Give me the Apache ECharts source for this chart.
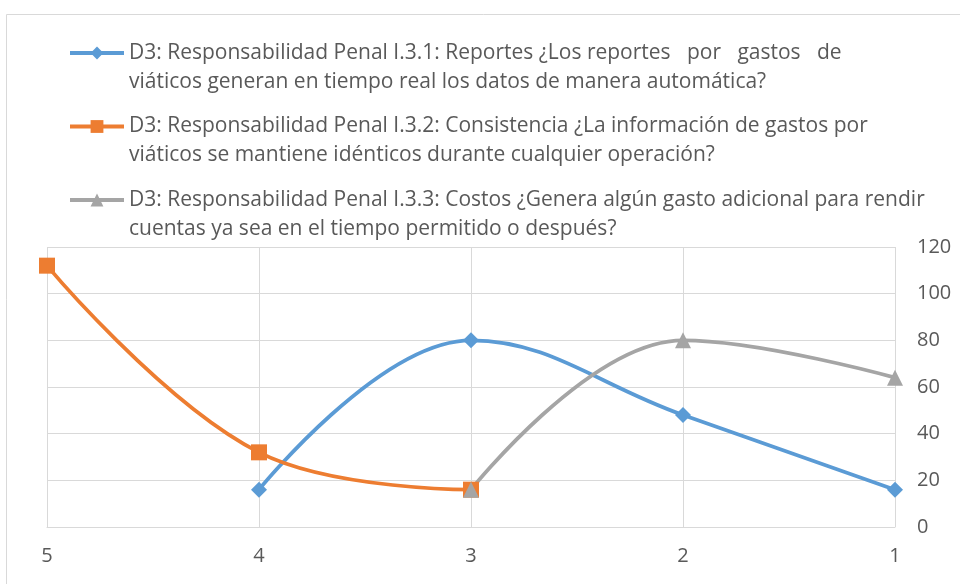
<!DOCTYPE html>
<html><head><meta charset="utf-8">
<script src="https://cdn.jsdelivr.net/npm/echarts@6/dist/echarts.min.js"></script>
<style>html,body{margin:0;padding:0;background:#fff}#c{width:960px;height:584px}</style>
</head><body><div id="c"></div>
<script>
var categories = ['5', '4', '3', '2', '1'];
var seriesNames = [
  'D3: Responsabilidad Penal I.3.1: Reportes ¿Los reportes por gastos de viáticos generan en tiempo real los datos de manera automática?',
  'D3: Responsabilidad Penal I.3.2: Consistencia ¿La información de gastos por viáticos se mantiene idénticos durante cualquier operación?',
  'D3: Responsabilidad Penal I.3.3: Costos ¿Genera algún gasto adicional para rendir cuentas ya sea en el tiempo permitido o después?'
];
var legendLines = [
  'D3: Responsabilidad Penal I.3.1: Reportes ¿Los reportes   por   gastos   de\nviáticos generan en tiempo real los datos de manera automática?',
  'D3: Responsabilidad Penal I.3.2: Consistencia ¿La información de gastos por\nviáticos se mantiene idénticos durante cualquier operación?',
  'D3: Responsabilidad Penal I.3.3: Costos ¿Genera algún gasto adicional para rendir\ncuentas ya sea en el tiempo permitido o después?'
];
var reportes = [null, 16, 80, 48, 16];
var consistencia = [112, 32, 16, null, null];
var costos = [null, null, 16, 80, 64];
var yTicks = [0, 20, 40, 60, 80, 100, 120];

var colors = ['#5b9bd5', '#ed7d31', '#a5a5a5'];
var symbols = ['diamond', 'rect', 'triangle'];
var values = [reportes, consistencia, costos];

var chart = echarts.init(document.getElementById('c'));
var series = values.map(function (v, i) {
  return {
    name: seriesNames[i], type: 'line', data: v, smooth: 0.4,
    symbol: symbols[i], symbolSize: 16, showSymbol: true,
    connectNulls: false,
    lineStyle: { color: colors[i], width: 3.75 },
    itemStyle: { color: colors[i] }
  };
});
chart.setOption({
  animation: false,
  textStyle: { fontFamily: 'Open Sans' },
  graphic: [{ type: 'rect', shape: { x: 6.5, y: 14.5, width: 1000, height: 1000 },
    style: { fill: 'none', stroke: '#d9d9d9', lineWidth: 1 }, silent: true }],
  legend: {
    orient: 'vertical', left: 68, top: 9.5, padding: 0,
    itemWidth: 54, itemHeight: 16, itemGap: -13.5,
    lineStyle: { width: 4 },
    data: seriesNames,
    formatter: function (n) { return '\n' + legendLines[seriesNames.indexOf(n)]; },
    textStyle: { fontSize: 21, color: '#595959', lineHeight: 29, fontFamily: 'Open Sans' }
  },
  grid: { left: 47, right: 65, top: 247, bottom: 57 },
  xAxis: {
    type: 'category', data: categories, boundaryGap: false,
    axisLine: { show: true, lineStyle: { color: '#d9d9d9', width: 1 } },
    axisTick: { show: false },
    splitLine: { show: true, lineStyle: { color: '#d9d9d9', width: 1 } },
    axisLabel: { color: '#595959', fontSize: 20, margin: 19 }
  },
  yAxis: {
    type: 'value', position: 'right', min: yTicks[0], max: yTicks[yTicks.length - 1], interval: 20,
    axisLine: { show: false }, axisTick: { show: false },
    splitLine: { show: true, lineStyle: { color: '#d9d9d9', width: 1 } },
    axisLabel: { color: '#595959', fontSize: 20, margin: 22 }
  },
  series: series
});
</script></body></html>
